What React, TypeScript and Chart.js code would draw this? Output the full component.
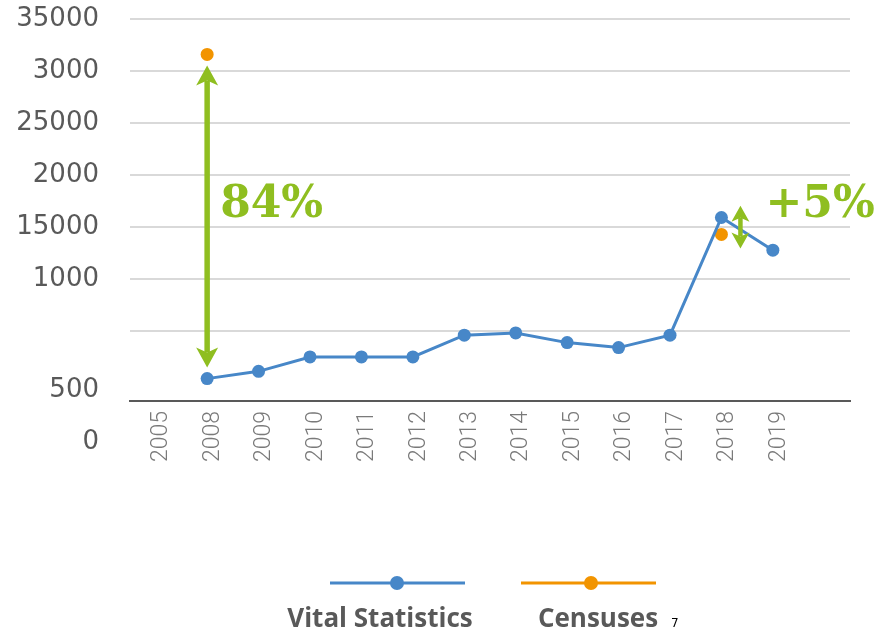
import React, { useEffect, useRef } from "react";
import { Chart, registerables } from "chart.js";

Chart.register(...registerables);

// ---------- data ----------
const categories = ["2005", "2008", "2009", "2010", "2011", "2012", "2013", "2014", "2015", "2016", "2017", "2018", "2019", ""];
const vitalStatistics = [null, 450, 1150, 2530, 2530, 2530, 4620, 4840, 3910, 3430, 4620, 15930, 12790, null];
const censuses = [null, 31600, null, null, null, null, null, null, null, null, null, 14300, null, null];
const seriesNames = ["Vital Statistics", "Censuses"];
const yGridValues = [35000, 30000, 25000, 20000, 15000, 10000, 5000];
const yTickValues = [35000, 30000, 25000, 20000, 15000, 10000, 5000, 0, -5000];
const yTickLabels = ["35000", "3000", "25000", "2000", "15000", "1000", "", "500", "0"];
const changeArrows = [
  { category: "2008", from: 450, to: 31600 },
  { category: "2018", from: 12950, to: 17050 },
];
const changeLabels = [
  { text: "84%", category: "2008", value: 16000 },
  { text: "+5%", category: "2018", value: 16000 },
];
const footnote = "7";

// ---------- styles ----------
const BLUE = "#4787c8";
const ORANGE = "#f29400";
const GREEN = "#8fbe20";
const GRID = "#d9d9d9";
const AXIS = "#595959";
const TEXT = "#595959";
const arrowStyles = [
  { dx: 0, gap: 11, width: 5.5, len: 20, half: 11, notch: 15 },
  { dx: 19, gap: 0, width: 4.5, len: 16, half: 9, notch: 12 },
];
const labelDx = [13, 44];

function drawHead(ctx: CanvasRenderingContext2D, x: number, tipY: number, dir: number, s: any) {
  ctx.beginPath();
  ctx.moveTo(x, tipY);
  ctx.lineTo(x - s.half, tipY - dir * s.len);
  ctx.lineTo(x, tipY - dir * s.notch);
  ctx.lineTo(x + s.half, tipY - dir * s.len);
  ctx.closePath();
  ctx.fill();
}

const overlayPlugin = {
  id: "overlay",
  afterDatasetsDraw(chart: any) {
    const ctx: CanvasRenderingContext2D = chart.ctx;
    const xs = chart.scales.x;
    const ys = chart.scales.y;
    ctx.save();
    changeArrows.forEach((a, i) => {
      const s = arrowStyles[i];
      const x = xs.getPixelForValue(categories.indexOf(a.category)) + s.dx;
      const yTop = ys.getPixelForValue(Math.max(a.from, a.to)) + s.gap;
      const yBot = ys.getPixelForValue(Math.min(a.from, a.to)) - s.gap;
      ctx.fillStyle = GREEN;
      ctx.strokeStyle = GREEN;
      ctx.lineWidth = s.width;
      ctx.beginPath();
      ctx.moveTo(x, yTop + s.notch);
      ctx.lineTo(x, yBot - s.notch);
      ctx.stroke();
      drawHead(ctx, x, yTop, -1, s);
      drawHead(ctx, x, yBot, 1, s);
    });
    ctx.font = "bold 44px 'DejaVu Serif'";
    ctx.fillStyle = GREEN;
    ctx.textAlign = "left";
    ctx.textBaseline = "alphabetic";
    changeLabels.forEach((l, i) => {
      const x = xs.getPixelForValue(categories.indexOf(l.category)) + labelDx[i];
      const y = ys.getPixelForValue(l.value);
      ctx.fillText(l.text, x, y);
    });
    ctx.restore();
  },
  afterDraw(chart: any) {
    const ctx: CanvasRenderingContext2D = chart.ctx;
    const ys = chart.scales.y;
    ctx.save();
    // y labels
    ctx.font = "26px 'DejaVu Sans'";
    ctx.fillStyle = TEXT;
    ctx.textAlign = "right";
    ctx.textBaseline = "middle";
    yTickValues.forEach((v, i) => {
      const nudge = v <= 0 ? 6.5 : 0;
      ctx.fillText(yTickLabels[i], chart.chartArea.left - 31, ys.getPixelForValue(v) + nudge);
    });
    // legend
    const items = [
      { name: seriesNames[0], color: BLUE, x0: 330, x1: 465, dot: 397, tx: 380 },
      { name: seriesNames[1], color: ORANGE, x0: 521, x1: 656, dot: 591, tx: 598 },
    ];
    items.forEach((it) => {
      ctx.strokeStyle = it.color;
      ctx.lineWidth = 3;
      ctx.beginPath();
      ctx.moveTo(it.x0, 583);
      ctx.lineTo(it.x1, 583);
      ctx.stroke();
      ctx.fillStyle = it.color;
      ctx.beginPath();
      ctx.arc(it.dot, 583, 7, 0, Math.PI * 2);
      ctx.fill();
      ctx.font = "bold 26px 'Open Sans'";
      ctx.fillStyle = TEXT;
      ctx.textAlign = "center";
      ctx.textBaseline = "alphabetic";
      ctx.fillText(it.name, it.tx, 627);
    });
    ctx.font = "12px 'DejaVu Sans'";
    ctx.fillStyle = "#000000";
    ctx.textAlign = "left";
    ctx.fillText(footnote, 671, 627);
    ctx.restore();
  },
};

export default function App() {
  const ref = useRef<HTMLCanvasElement>(null);
  useEffect(() => {
    document.body.style.margin = "0";
    const chart = new Chart(ref.current as HTMLCanvasElement, {
      type: "line",
      data: {
        labels: categories,
        datasets: [
          {
            label: seriesNames[0],
            data: vitalStatistics,
            borderColor: BLUE,
            backgroundColor: BLUE,
            borderWidth: 3,
            pointRadius: 6.5,
            pointHoverRadius: 6.5,
            pointBorderWidth: 0,
            tension: 0,
          },
          {
            label: seriesNames[1],
            data: censuses,
            borderColor: ORANGE,
            backgroundColor: ORANGE,
            showLine: false,
            pointRadius: 6.5,
            pointHoverRadius: 6.5,
            pointBorderWidth: 0,
          },
        ],
      } as any,
      options: {
        responsive: false,
        animation: false,
        devicePixelRatio: 1,
        layout: { padding: { left: 0, right: 26, top: 19, bottom: 0 } },
        plugins: { legend: { display: false }, tooltip: { enabled: false } },
        scales: {
          x: {
            type: "category",
            offset: true,
            grid: { display: false, drawTicks: false },
            border: { display: true, color: AXIS, width: 2 },
            ticks: {
              autoSkip: false,
              minRotation: 90,
              maxRotation: 90,
              padding: 10,
              labelOffset: 6,
              color: "#7a7a7a",
              font: { family: "Roboto", weight: "300", size: 23 },
            },
            afterFit: (s: any) => {
              s.height = 232;
            },
          },
          y: {
            type: "linear",
            min: -1700,
            max: 35000,
            grid: { color: GRID, lineWidth: 2, drawTicks: false },
            border: { display: false },
            ticks: { display: false },
            afterBuildTicks: (s: any) => {
              s.ticks = yGridValues.map((v) => ({ value: v }));
            },
            afterFit: (s: any) => {
              s.width = 130;
            },
          },
        },
      } as any,
      plugins: [overlayPlugin],
    });
    return () => chart.destroy();
  }, []);
  return <canvas ref={ref} width={876} height={633} style={{ display: "block" }} />;
}
